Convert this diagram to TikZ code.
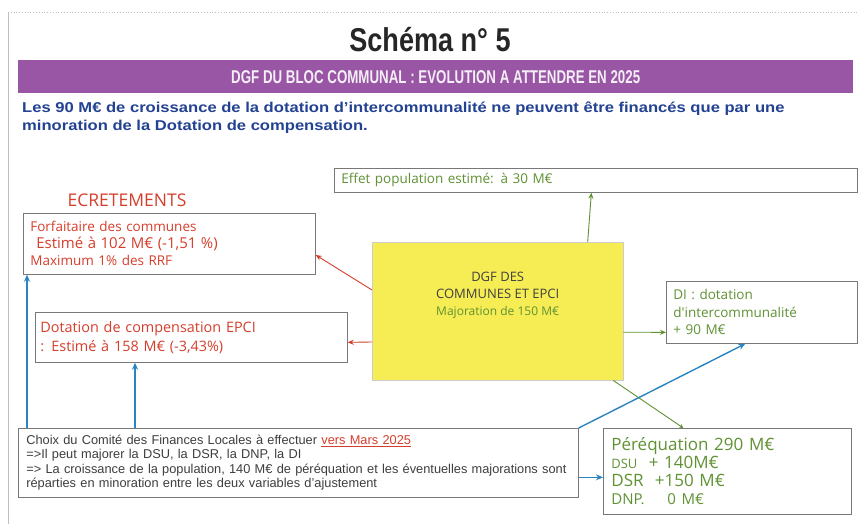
\documentclass[tikz,border=0pt]{standalone}
\usepackage{fontspec}
\setmainfont{Liberation Sans}
\newfontfamily\boxfont{Open Sans}
\usepackage{tikz}
\usetikzlibrary{arrows.meta}
\usetikzlibrary{positioning}

\definecolor{bandpurple}{RGB}{152,86,164}
\definecolor{introblue}{RGB}{35,66,146}
\definecolor{redtxt}{RGB}{214,62,44}
\definecolor{greentxt}{RGB}{96,146,52}
\definecolor{arrblue}{RGB}{42,132,196}
\definecolor{boxgray}{RGB}{120,120,120}
\definecolor{dgfyellow}{RGB}{246,236,84}
\definecolor{choixgray}{RGB}{62,62,62}

\begin{document}
\begin{tikzpicture}[x=1pt,y=-1pt,
   box/.style={draw=boxgray, line width=0.7pt, anchor=north west, inner ysep=0pt, align=left},
   redarr/.style={draw=redtxt, line width=0.9pt, -{Stealth[length=6pt,width=5pt]}},
   greenarr/.style={draw=greentxt, line width=0.9pt, -{Stealth[length=6pt,width=5pt]}},
   bluearr/.style={draw=arrblue, line width=1.4pt, -{Stealth[length=7pt,width=6pt]}}]
   \useasboundingbox (0,0) rectangle (859,524);
   \fill[white] (0,0) rectangle (859,524);
   \draw[black!25, line width=0.8pt] (8,524) -- (8,12);
   \draw[black!25, line width=0.8pt, dotted] (8,12) -- (859,12);

   \node[font=\bfseries\fontsize{33}{36}\selectfont, text=black!85] (title) at (430,40)
      {\scalebox{0.82}[1]{Schéma n° 5}};
   \node[fill=bandpurple, minimum width=835, minimum height=33, anchor=north west,
         text=white!90!bandpurple, font=\bfseries\fontsize{18.5}{22}\selectfont] (band) at (18,60)
      {\scalebox{0.72}[1]{DGF DU BLOC COMMUNAL : EVOLUTION A ATTENDRE EN 2025}};
   \node[anchor=north west, inner sep=0pt, align=left, text=introblue,
         font=\bfseries\fontsize{14.3}{18}\selectfont] (intro) at (22,102)
      {\scalebox{1.16}[1]{Les 90 M€ de croissance de la dotation d'intercommunalité ne peuvent être financés que par une}\\
       \scalebox{1.16}[1]{minoration de la Dotation de compensation.}};

   \node[text=redtxt, font=\boxfont\fontsize{17.5}{18}\selectfont] (ecret) at (127,200) {ECRETEMENTS};
   \node[box, inner xsep=7pt, text width=278, minimum height=61, text=redtxt,
         font=\boxfont\fontsize{13.5}{17}\selectfont] (forf) at (23,213)
      {Forfaitaire des communes\\
       \hspace*{6pt}{\fontsize{15}{17}\selectfont Estimé à 102 M€ (-1,51 \%)}\\
       Maximum 1\% des RRF};
   \node[box, inner xsep=5pt, text width=302, minimum height=50, text=redtxt,
         font=\boxfont\fontsize{14.4}{19}\selectfont] (dotcomp) at (35,312)
      {Dotation de compensation EPCI\\
       : Estimé à 158 M€ (-3,43\%)};
   \node[box, inner xsep=7pt, text width=509, minimum height=24, text=greentxt,
         font=\boxfont\fontsize{13.5}{16}\selectfont] (effet) at (334,168)
      {Effet population estimé: à 30 M€};
   \node[draw=black!20, fill=dgfyellow, anchor=north west, minimum width=251, minimum height=138] (dgf) at (372,242) {};
   \node[anchor=north, align=center, text=black!75, font=\boxfont\fontsize{13}{17}\selectfont]
      (dgftxt) at ([yshift=-27pt]dgf.north)
      {DGF DES\\ COMMUNES ET EPCI\\ \textcolor{greentxt}{\fontsize{12}{17}\selectfont Majoration de 150 M€}};
   \node[box, inner xsep=7pt, text width=177, minimum height=62, text=greentxt,
         font=\boxfont\fontsize{13.5}{17.5}\selectfont] (di) at (666,281)
      {DI : dotation\\ d'intercommunalité\\ + 90 M€};
   \node[box, inner xsep=8pt, text width=544, minimum height=69, text=choixgray,
         font=\fontsize{12.8}{14.5}\selectfont] (choix) at (18,428)
      {Choix du Comité des Finances Locales à effectuer \textcolor{redtxt}{\underline{vers Mars 2025}}\\
       =>Il peut majorer la DSU, la DSR, la DNP, la DI\\
       => La croissance de la population, 140 M€ de péréquation et les éventuelles majorations sont\\
       réparties en minoration entre les deux variables d'ajustement};
   \node[box, inner xsep=8pt, text width=232, minimum height=86, text=greentxt,
         font=\boxfont\fontsize{17}{18}\selectfont] (pereq) at (603,428)
      {Péréquation 290 M€\\
       {\fontsize{13}{18}\selectfont DSU}\ \ + 140M€\\
       DSR\ \ +150 M€\\
       {\fontsize{15}{18}\selectfont DNP.\ \ \ \ 0 M€}};

   \draw[greenarr] ([xshift=90pt]dgf.north) -- ([xshift=-4.5pt]effet.south);
   \draw[redarr] ([yshift=-48pt]dgf.north west) -- ([yshift=-42pt]forf.north east);
   \draw[redarr] ([yshift=-100pt]dgf.north west) -- ([yshift=-5pt]dotcomp.east);
   \draw[greenarr] ([yshift=-21pt]dgf.east) -- ([yshift=-20pt]di.west);
   \draw[draw=greentxt, line width=0.9pt, -{Stealth[length=4pt,width=4pt]}]
      ([xshift=115.5pt]dgf.south) -- ([xshift=-44pt]pereq.north);
   \draw[bluearr] (choix.north east) -- ([xshift=-16.5pt]di.south);
   \draw[bluearr] ([yshift=-14.5pt]choix.east) -- ([yshift=-6pt]pereq.west);
   \draw[bluearr] ([xshift=117pt]choix.north west) -- ([xshift=100pt]dotcomp.south west);
   \draw[bluearr] ([xshift=9pt]choix.north west) -- ([xshift=4pt]forf.south west);
\end{tikzpicture}
\end{document}
